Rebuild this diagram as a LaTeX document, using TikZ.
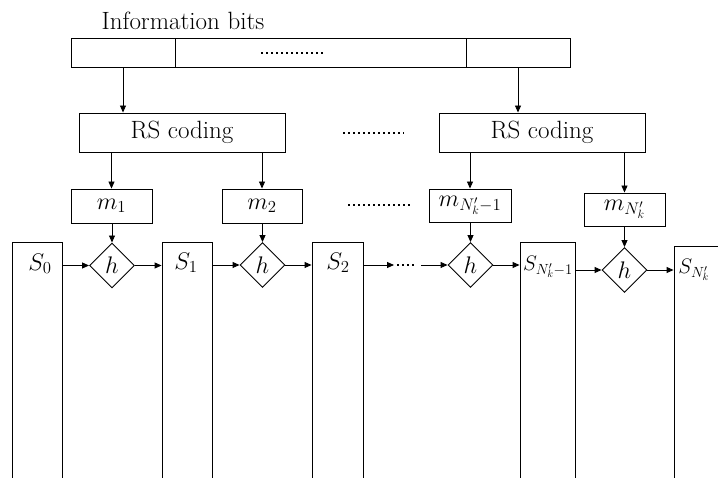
\RequirePackage{fix-cm}
\documentclass[tikz,border=0pt]{standalone}
\usetikzlibrary{shapes.geometric,arrows.meta}
\begin{document}
\begin{tikzpicture}[x=1pt,y=-1pt,
  line width=0.9pt,
  every node/.style={font=\fontsize{24}{28}\selectfont},
  box/.style={draw, rectangle, inner sep=0pt},
  bigtext/.style={font=\fontsize{25}{29}\selectfont},
  smalltext/.style={font=\fontsize{21}{25}\selectfont},
  hbox/.style={draw, diamond, aspect=1, minimum size=45pt, inner sep=0pt},
  arr/.style={-{Triangle[length=7pt,width=6pt]}},
  dotline/.style={line width=1.6pt, dash pattern=on 1.6pt off 3.4pt},
]
\useasboundingbox (0,0) rectangle (718,478);
\clip (0,0) rectangle (718,478);

% title and information bits bar
\node[bigtext, anchor=base] (title) at (183,30) {Information bits};
\node[box, minimum width=104pt, minimum height=29pt] (c1) at (123,52.5) {};
\node[box, minimum width=291pt, minimum height=29pt] (c2) at (320.5,52.5) {};
\node[box, minimum width=104pt, minimum height=29pt] (c3) at (518,52.5) {};
\draw[dotline] (261,53) -- (324,53);

% RS coding
\node[box, bigtext, minimum width=206pt, minimum height=39pt] (rs1) at (182,132.5) {RS coding};
\node[box, bigtext, minimum width=206pt, minimum height=39pt] (rs2) at (542,132.5) {RS coding};
\draw[dotline] (343,133) -- (404,133);
\draw[arr] (c1.south) -- (c1.south |- rs1.north);
\draw[arr] (c3.south) -- (c3.south |- rs2.north);

% message blocks
\node[box, minimum width=81pt, minimum height=34pt] (m1) at (111.5,206) {$m_1$};
\node[box, minimum width=80pt, minimum height=34pt] (m2) at (262,206) {$m_2$};
\node[box, minimum width=82pt, minimum height=33pt] (mN1) at (470,205.5) {$m_{N'_k-1}$};
\node[box, minimum width=81pt, minimum height=33pt] (mN) at (624.5,209.5) {$m_{N'_k}$};
\draw[dotline] (348,205) -- (411,205);
\draw[arr] (rs1.south -| m1.north) -- (m1.north);
\draw[arr] (rs1.south -| m2.north) -- (m2.north);
\draw[arr] (rs2.south -| mN1.north) -- (mN1.north);
\draw[arr] (rs2.south -| mN.north) -- (mN.north);

% hash diamonds
\node[hbox] (h1) at (112,265.5) {$h$};
\node[hbox] (h2) at (262.5,265) {$h$};
\node[hbox] (h3) at (470.5,265) {$h$};
\node[hbox] (h4) at (624.5,270) {$h$};
\draw[arr] (m1.south -| h1.north) -- (h1.north);
\draw[arr] (m2.south -| h2.north) -- (h2.north);
\draw[arr] (mN1.south -| h3.north) -- (h3.north);
\draw[arr] (mN.south -| h4.north) -- (h4.north);

% state columns (open at the bottom)
\node[box, minimum width=50pt, minimum height=258pt] (s0) at (37,371) {};
\node[box, minimum width=50pt, minimum height=258pt] (s1) at (187,371) {};
\node[box, minimum width=51pt, minimum height=258pt] (s2) at (337.5,371) {};
\node[box, minimum width=55pt, minimum height=258pt] (sN1) at (547.5,371) {};
\node[box, minimum width=55pt, minimum height=254pt] (sN) at (701.5,373) {};
\node (l0) at (40,264) {$S_0$};
\node (l1) at (186,263) {$S_1$};
\node (l2) at (338,263) {$S_2$};
\node[smalltext, inner sep=0pt] (lN1) at (548,267) {$S_{N'_k-1}$};
\node[smalltext, anchor=west, inner sep=0pt] (lN) at (678,270) {$S_{N'_k}$};

% chain arrows
\draw[arr] (s0.east |- h1.west) -- (h1.west);
\draw[arr] (h1.east) -- (h1.east -| s1.west);
\draw[arr] (s1.east |- h2.west) -- (h2.west);
\draw[arr] (h2.east) -- (h2.east -| s2.west);
\coordinate (d1) at (394,265);
\coordinate (d2) at (421,265);
\draw[arr] (s2.east |- d1) -- (d1);
\draw[dotline] (397,265) -- (416,265);
\draw[arr] (d2) -- (h3.west);
\draw[arr] (h3.east) -- (h3.east -| sN1.west);
\draw[arr] (sN1.east |- h4.west) -- (h4.west);
\draw[arr] (h4.east) -- (h4.east -| sN.west);
\end{tikzpicture}
\end{document}
